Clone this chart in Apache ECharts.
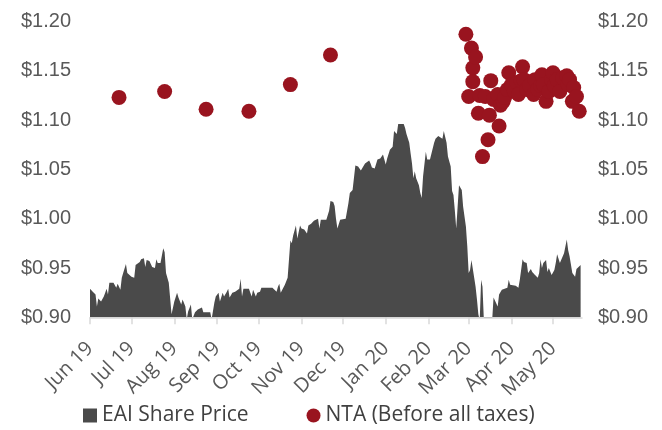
<!DOCTYPE html>
<html><head><meta charset="utf-8">
<script src="https://cdn.jsdelivr.net/npm/echarts@6/dist/echarts.min.js"></script>
<style>html,body{margin:0;padding:0;background:#fff}#c{width:662px;height:430px}</style>
</head><body><div id="c"></div>
<script>
// ---- data ----
const priceDates = [
'2019-06-01','2019-06-03','2019-06-05','2019-06-06','2019-06-07','2019-06-09','2019-06-11','2019-06-12','2019-06-13','2019-06-14',
'2019-06-15','2019-06-18','2019-06-19','2019-06-20','2019-06-21','2019-06-23','2019-06-24','2019-06-25','2019-06-27','2019-06-28',
'2019-06-29','2019-07-01','2019-07-03','2019-07-04','2019-07-05','2019-07-07','2019-07-08','2019-07-10','2019-07-11','2019-07-12',
'2019-07-14','2019-07-16','2019-07-17','2019-07-18','2019-07-19','2019-07-20','2019-07-22','2019-07-23','2019-07-24','2019-07-25',
'2019-07-26','2019-07-28','2019-07-30','2019-07-31','2019-08-01','2019-08-03','2019-08-04','2019-08-06','2019-08-07','2019-08-09',
'2019-08-10','2019-08-11','2019-08-13','2019-08-14','2019-08-16','2019-08-18','2019-08-19','2019-08-21','2019-08-22','2019-08-24',
'2019-08-27','2019-08-28','2019-08-29','2019-08-30','2019-08-31','2019-09-02','2019-09-03','2019-09-05','2019-09-06','2019-09-08',
'2019-09-09','2019-09-10','2019-09-12','2019-09-13','2019-09-14','2019-09-15','2019-09-17','2019-09-18','2019-09-19','2019-09-20',
'2019-09-21','2019-09-24','2019-09-25','2019-09-26','2019-09-27','2019-09-29','2019-09-30','2019-10-02','2019-10-03','2019-10-07',
'2019-10-11','2019-10-12','2019-10-14','2019-10-15','2019-10-16','2019-10-17','2019-10-18','2019-10-20','2019-10-22','2019-10-23',
'2019-10-24','2019-10-25','2019-10-26','2019-10-28','2019-10-29','2019-10-31','2019-11-01','2019-11-03','2019-11-04','2019-11-05',
'2019-11-06','2019-11-08','2019-11-10','2019-11-11','2019-11-13','2019-11-14','2019-11-15','2019-11-17','2019-11-19','2019-11-21',
'2019-11-22','2019-11-24','2019-11-25','2019-11-26','2019-11-27','2019-11-29','2019-11-30','2019-12-03','2019-12-05','2019-12-06',
'2019-12-08','2019-12-09','2019-12-10','2019-12-12','2019-12-14','2019-12-15','2019-12-17','2019-12-18','2019-12-20','2019-12-21',
'2019-12-22','2019-12-24','2019-12-25','2019-12-26','2019-12-28','2019-12-30','2020-01-01','2020-01-02','2020-01-04','2020-01-06',
'2020-01-07','2020-01-09','2020-01-10','2020-01-12','2020-01-14','2020-01-15','2020-01-16','2020-01-18','2020-01-19','2020-01-20',
'2020-01-21','2020-01-22','2020-01-23','2020-01-24','2020-01-25','2020-01-26','2020-01-27','2020-01-28','2020-01-30','2020-01-31',
'2020-02-02','2020-02-03','2020-02-05','2020-02-06','2020-02-08','2020-02-09','2020-02-11','2020-02-12','2020-02-14','2020-02-15',
'2020-02-17','2020-02-18','2020-02-19','2020-02-20','2020-02-21','2020-02-22','2020-02-23','2020-02-25','2020-02-26','2020-02-28',
'2020-02-29','2020-03-01','2020-03-02','2020-03-03','2020-03-04','2020-03-05','2020-03-06','2020-03-07','2020-03-08','2020-03-09',
'2020-03-10','2020-03-11','2020-03-12','2020-03-15','2020-03-18','2020-03-19','2020-03-20','2020-03-22','2020-03-23','2020-03-25',
'2020-03-26','2020-03-29','2020-03-30','2020-03-31','2020-04-01','2020-04-04','2020-04-06','2020-04-07','2020-04-09','2020-04-10',
'2020-04-12','2020-04-13','2020-04-15','2020-04-16','2020-04-18','2020-04-20','2020-04-21','2020-04-22','2020-04-23','2020-04-24',
'2020-04-26','2020-04-27','2020-04-28','2020-04-29','2020-04-30','2020-05-02','2020-05-03','2020-05-04','2020-05-06','2020-05-07',
'2020-05-09','2020-05-11','2020-05-12','2020-05-13','2020-05-15','2020-05-16','2020-05-17','2020-05-18','2020-05-19','2020-05-21'
];
const priceValues = [
0.929,0.926,0.923,0.911,0.919,0.916,0.921,0.925,0.929,0.923,
0.935,0.935,0.933,0.930,0.934,0.928,0.940,0.945,0.954,0.945,
0.944,0.941,0.940,0.953,0.955,0.956,0.959,0.960,0.951,0.958,
0.957,0.951,0.950,0.950,0.959,0.955,0.955,0.957,0.970,0.966,
0.945,0.935,0.903,0.901,0.916,0.925,0.920,0.913,0.918,0.911,
0.898,0.906,0.913,0.898,0.905,0.908,0.910,0.910,0.905,0.905,
0.905,0.898,0.898,0.915,0.921,0.925,0.916,0.925,0.921,0.926,
0.929,0.920,0.925,0.927,0.926,0.925,0.929,0.939,0.921,0.929,
0.930,0.929,0.925,0.921,0.928,0.921,0.925,0.926,0.930,0.930,
0.930,0.928,0.926,0.931,0.934,0.925,0.925,0.933,0.940,0.941,
0.978,0.975,0.983,0.993,0.980,0.993,0.990,0.989,0.989,0.985,
0.993,0.995,0.998,1.000,1.000,0.990,0.999,0.999,0.999,1.008,
1.018,1.017,1.013,1.000,0.990,0.999,0.999,1.000,1.016,1.026,
1.029,1.029,1.054,1.053,1.049,1.049,1.056,1.058,1.059,1.056,
1.052,1.051,1.053,1.060,1.061,1.065,1.055,1.061,1.070,1.073,
1.089,1.086,1.096,1.096,1.096,1.092,1.086,1.077,1.066,1.056,
1.041,1.048,1.041,1.043,1.034,1.026,1.021,1.043,1.068,1.060,
1.060,1.060,1.077,1.081,1.084,1.084,1.081,1.089,1.077,1.063,
1.053,1.028,1.024,1.008,0.990,1.012,1.034,1.029,1.012,0.992,
0.972,0.945,0.948,0.958,0.958,0.940,0.931,0.918,0.903,0.897,
0.938,0.931,0.897,0.897,0.897,0.920,0.918,0.911,0.923,0.928,
0.930,0.930,0.938,0.933,0.935,0.932,0.930,0.938,0.959,0.956,
0.955,0.945,0.949,0.946,0.943,0.940,0.945,0.959,0.950,0.955,
0.958,0.946,0.950,0.949,0.943,0.948,0.955,0.964,0.955,0.956,
0.965,0.979,0.968,0.962,0.945,0.943,0.941,0.949,0.948,0.953
];
const ntaDates = [
'2019-06-22','2019-07-25','2019-08-24','2019-09-24','2019-10-24','2019-11-22',
'2020-02-28','2020-03-01','2020-03-03','2020-03-04','2020-03-04','2020-03-06','2020-03-08','2020-03-09',
'2020-03-11','2020-03-13','2020-03-15','2020-03-16','2020-03-17','2020-03-19','2020-03-22','2020-03-23',
'2020-03-24','2020-03-26','2020-03-27','2020-03-29','2020-03-30','2020-04-01','2020-04-03','2020-04-05',
'2020-04-06','2020-04-08','2020-04-09','2020-04-10','2020-04-12','2020-04-14','2020-04-17','2020-04-18',
'2020-04-20','2020-04-22','2020-04-23','2020-04-24','2020-04-26','2020-04-28','2020-04-30','2020-05-01',
'2020-05-02','2020-05-04','2020-05-06','2020-05-08','2020-05-11','2020-05-12','2020-05-13','2020-05-15',
'2020-05-16','2020-05-18','2020-05-20'
];
const ntaValues = [
1.123,1.129,1.111,1.109,1.136,1.166,
1.187,1.124,1.173,1.153,1.139,1.164,1.107,1.125,
1.063,1.124,1.080,1.105,1.140,1.121,1.126,1.094,
1.115,1.119,1.123,1.131,1.148,1.136,1.129,1.138,
1.126,1.140,1.154,1.141,1.131,1.135,1.126,1.141,
1.131,1.135,1.146,1.136,1.119,1.129,1.141,1.148,
1.135,1.141,1.129,1.143,1.145,1.136,1.141,1.119,
1.133,1.124,1.109
];
const monthTicks = ['2019-06-01','2019-07-01','2019-08-01','2019-09-01','2019-10-01','2019-11-01',
                    '2019-12-01','2020-01-01','2020-02-01','2020-03-01','2020-04-01','2020-05-01'];
const axisStart = '2019-06-01';
const axisEnd = '2020-05-22';
const monthNames = ['Jan','Feb','Mar','Apr','May','Jun','Jul','Aug','Sep','Oct','Nov','Dec'];

// ---- chart ----
const t = s => Date.parse(s);
const tickVals = monthTicks.map(t);
const fmtMonth = v => { const d = new Date(v); return monthNames[d.getUTCMonth()] + ' ' + String(d.getUTCFullYear()).slice(2); };
const yLabel = (margin) => ({
  formatter: v => '$' + v.toFixed(2),
  fontFamily: 'Liberation Sans', fontSize: 20, color: '#595959', margin: margin
});
const chart = echarts.init(document.getElementById('c'), null, {renderer: 'canvas'});
chart.setOption({
  animation: false,
  backgroundColor: '#fff',
  grid: {left: 90, right: 80, top: 21.5, bottom: 112.7, containLabel: false},
  xAxis: {
    type: 'value', min: t(axisStart), max: t(axisEnd),
    splitLine: {show: false},
    axisLine: {show: true, lineStyle: {color: '#d9d9d9', width: 1.5}},
    axisTick: {show: true, length: 7, lineStyle: {color: '#d9d9d9', width: 1.5}, customValues: tickVals},
    axisLabel: {customValues: tickVals, formatter: fmtMonth, rotate: 45, margin: 28,
      fontFamily: 'Open Sans', fontSize: 20, color: '#595959'}
  },
  yAxis: [
    {type: 'value', position: 'left', min: 0.9, max: 1.2, interval: 0.05,
     splitLine: {show: false}, axisLine: {show: false}, axisTick: {show: false}, axisLabel: yLabel(19)},
    {type: 'value', position: 'right', min: 0.9, max: 1.2, interval: 0.05,
     splitLine: {show: false}, axisLine: {show: false}, axisTick: {show: false}, axisLabel: yLabel(16)}
  ],
  legend: {
    left: 78, top: 400, itemWidth: 14, itemHeight: 14, itemGap: 58, padding: 5,
    textStyle: {fontFamily: 'Open Sans', fontSize: 21, color: '#404040'},
    data: [{name: 'EAI Share Price', icon: 'rect'}, {name: 'NTA (Before all taxes)', icon: 'circle'}]
  },
  series: [
    {name: 'EAI Share Price', type: 'line', yAxisIndex: 0,
     data: priceDates.map((d, i) => [t(d), priceValues[i]]),
     symbol: 'none', showSymbol: false,
     lineStyle: {width: 0, color: '#4a4a4a'}, itemStyle: {color: '#4a4a4a'},
     areaStyle: {color: '#4a4a4a', opacity: 1, origin: 'start'}, z: 2},
    {name: 'NTA (Before all taxes)', type: 'scatter', yAxisIndex: 0,
     data: ntaDates.map((d, i) => [t(d), ntaValues[i]]),
     symbol: 'circle', symbolSize: 15, itemStyle: {color: '#99141f', opacity: 1}, z: 3}
  ]
});
</script></body></html>
